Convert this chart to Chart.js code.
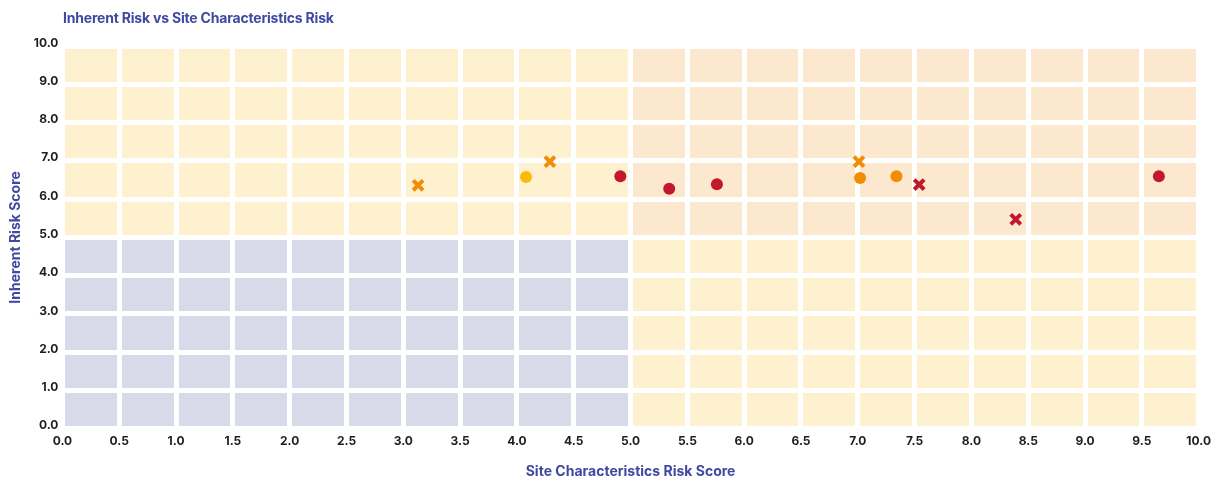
<!DOCTYPE html>
<html>
<head>
<meta charset="utf-8">
<script src="https://cdn.jsdelivr.net/npm/chart.js@4"></script>
<style>
  html, body { margin: 0; background: #fff; overflow: hidden; font-family: "Inter", "Open Sans", sans-serif; }
  #wrap { position: relative; width: 1216px; height: 480px; }
  #title { position: absolute; left: 63px; top: 9px; font-size: 14px; font-weight: 700; color: #3f49a0; letter-spacing: -0.2px; }
</style>
</head>
<body>
<div id="wrap">
  <div id="title">Inherent Risk vs Site Characteristics Risk</div>
  <canvas id="riskChart"></canvas>
</div>
<script>
// ========== DATA ==========
const redCircles = [
  { x: 4.91, y: 6.6 },
  { x: 5.34, y: 6.27 },
  { x: 5.76, y: 6.39 },
  { x: 9.65, y: 6.6 },
];
const redCrosses = [
  { x: 7.54, y: 6.38 },
  { x: 8.39, y: 5.47 },
];
const orangeCircles = [
  { x: 7.02, y: 6.55 },
  { x: 7.34, y: 6.6 },
];
const orangeCrosses = [
  { x: 3.13, y: 6.36 },
  { x: 4.29, y: 6.98 },
  { x: 7.01, y: 6.98 },
];
const yellowCircles = [{ x: 4.08, y: 6.58 }];

const AXIS_MIN = 0,
  AXIS_MAX = 10,
  SPLIT = 5;

const RED = "#c2182b",
  ORANGE = "#f28c05",
  YELLOW = "#fbb90c",
  NAVY = "#3f49a0";

// quadrant backgrounds
const quadrantBg = {
  id: "quadrantBg",
  beforeDraw(chart) {
    const { ctx, chartArea: a, scales } = chart;
    const xm = scales.x.getPixelForValue(SPLIT);
    const ym = scales.y.getPixelForValue(SPLIT);
    ctx.save();
    ctx.fillStyle = "#fdf1d0";
    ctx.fillRect(a.left, a.top, xm - a.left, ym - a.top);
    ctx.fillRect(xm, ym, a.right - xm, a.bottom - ym);
    ctx.fillStyle = "#fbe8cf";
    ctx.fillRect(xm, a.top, a.right - xm, ym - a.top);
    ctx.fillStyle = "#d9dae9";
    ctx.fillRect(a.left, ym, xm - a.left, a.bottom - ym);
    ctx.restore();
  },
};

function circleSet(data, color) {
  return { data, pointStyle: "circle", pointRadius: 6, backgroundColor: color, borderColor: color, borderWidth: 0 };
}
function crossSet(data, color) {
  return { data, pointStyle: "crossRot", pointRadius: 7, backgroundColor: color, borderColor: color, borderWidth: 4 };
}

const tickFont = { family: "Inter", size: 12, weight: "700" };
const titleFont = { family: "Inter", size: 14, weight: "700" };

new Chart(document.getElementById("riskChart"), {
  type: "scatter",
  data: {
    datasets: [
      circleSet(redCircles, RED),
      crossSet(redCrosses, RED),
      circleSet(orangeCircles, ORANGE),
      crossSet(orangeCrosses, ORANGE),
      circleSet(yellowCircles, YELLOW),
    ],
  },
  options: {
    responsive: true,
    maintainAspectRatio: false,
    animation: false,
    layout: { padding: { top: 46, left: 7, right: 0, bottom: 0 } },
    plugins: { legend: { display: false }, tooltip: { enabled: false } },
    scales: {
      x: {
        min: AXIS_MIN,
        max: AXIS_MAX,
        ticks: { stepSize: 0.5, color: "#1e1e1e", font: tickFont, padding: 5, callback: (v) => v.toFixed(1) },
        grid: { color: "#fff", lineWidth: 5, drawTicks: false },
        border: { display: false },
        title: { display: true, text: "Site Characteristics Risk Score", color: NAVY, font: titleFont, padding: { top: 10, bottom: 0 } },
      },
      y: {
        min: AXIS_MIN,
        max: AXIS_MAX,
        ticks: { stepSize: 1, color: "#1e1e1e", font: tickFont, padding: 4, labelOffset: -3, callback: (v) => v.toFixed(1) },
        grid: { color: "#fff", lineWidth: 5, drawTicks: false },
        border: { display: false },
        title: { display: true, text: "Inherent Risk Score", color: NAVY, font: titleFont, padding: { top: 0, bottom: 6 } },
      },
    },
  },
  plugins: [quadrantBg],
});
</script>
</body>
</html>
